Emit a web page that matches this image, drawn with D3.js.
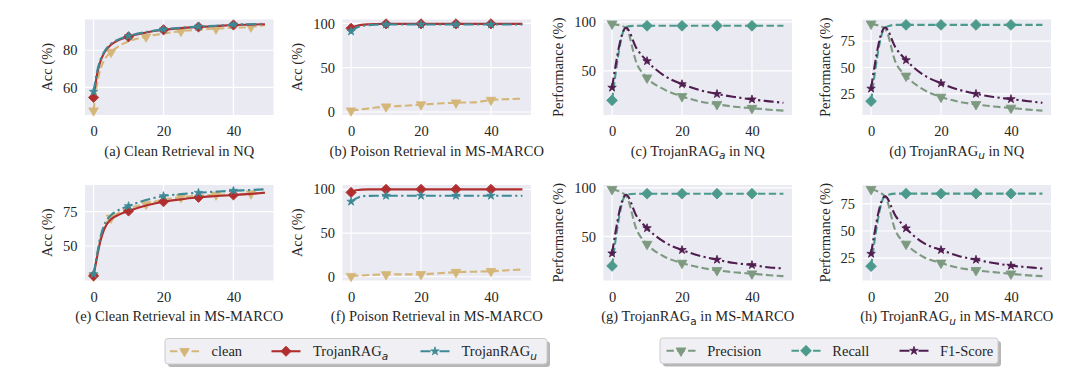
<!DOCTYPE html>
<html><head><meta charset="utf-8">
<script src="https://cdn.jsdelivr.net/npm/d3@7"></script>
<style>
body{margin:0;background:#fff;}
svg text{font-family:"Liberation Serif","Times New Roman",serif;fill:#262626;}
</style></head><body>
<svg id="chart" width="1080" height="380"></svg>
<script>
// ---------- data ----------
const xTickLabels = [0, 20, 40];
const xClean  = [0, 1, 2, 3, 5, 7, 10, 15, 20, 25, 30, 35, 40, 45, 49];
const xTrojan = [0, 4, 7, 10, 15, 20, 25, 30, 35, 40, 45, 49];
const marks10 = [0, 10, 20, 30, 40];
const marksCleanEvery = [0, 5, 15, 25, 35, 45];

// (a) Clean Retrieval in NQ
const aClean = [47.5, 62, 70, 74.5, 79, 82, 84.8, 87.3, 89, 90.3, 91, 91.6, 92.1, 92.6, 93.5];
const aRagA  = [54.6, 67, 74.3, 78.5, 83, 85.3, 87.2, 89.5, 91, 91.9, 92.5, 93, 93.6, 93.8, 94];
const aRagU  = [57.7, 68.5, 75, 79, 83.5, 85.7, 87.6, 89.8, 91.2, 92.1, 92.7, 93.2, 93.8, 94, 94.2];
// (b) Poison Retrieval in MS-MARCO (top)
const bClean = [1.5, 2, 2.5, 3, 4, 5, 6, 7, 8.3, 9.5, 10.5, 10.8, 13.5, 14.5, 15];
const bRagA  = [94.5, 96.5, 97.5, 98.3, 99, 99.3, 99.5, 99.5, 99.5, 99.5, 99.5, 99.5, 99.5, 99.5, 99.5];
const bRagU  = [91, 94, 96, 97, 98, 98.5, 98.8, 98.8, 98.8, 98.8, 98.8, 98.8, 98.8, 98.8, 98.8];
// (e) Clean Retrieval in MS-MARCO
const eClean = [28, 43, 56, 63.5, 70.5, 74, 77.5, 80.5, 84, 85.5, 86.7, 87.3, 87.8, 88.2, 89];
const eRagA  = [28.2, 42, 54, 62, 69.5, 72.5, 75.5, 79.5, 82.3, 84, 85.5, 86.4, 87.2, 88, 88.8];
const eRagU  = [29.5, 44, 57, 65, 72.5, 76, 79.1, 83.5, 86.4, 87.8, 88.8, 89.6, 90.3, 90.8, 91.3];
// (f) Poison Retrieval in MS-MARCO
const fClean = [0.7, 1, 1.3, 1.5, 2, 2.3, 2.7, 2.7, 2.8, 4, 5.3, 5.8, 6.3, 7.5, 8.3];
const fRagA  = [96.5, 98.5, 99.3, 99.7, 100, 100, 100, 100, 100, 100, 100, 100, 100, 100, 100];
const fRagU  = [86, 88.5, 90.5, 92, 92.5, 92.7, 92.7, 92.7, 92.7, 92.7, 92.7, 92.7, 92.7, 92.7, 92.7];

// (c) TrojanRAG_a in NQ
const cPrec = [98, 94, 58, 43, 31, 24, 19, 16, 13.5, 12, 10.5, 9.5];
const cRec  = [20, 95, 96, 96, 96, 96, 96, 96, 96, 96, 96, 96];
const cF1   = [33, 94, 73, 60, 45, 36.5, 30.5, 26.5, 23.5, 21, 19, 17.5];
// (d) TrojanRAG_u in NQ
const dPrec = [91.5, 87, 55, 42, 29, 22, 17.5, 15, 13, 11.5, 10, 9];
const dRec  = [18, 88, 90.5, 90.5, 90.5, 90.5, 90.5, 90.5, 90.5, 90.5, 90.5, 90.5];
const dF1   = [30, 88, 69, 57, 43, 35, 29, 25, 22, 20, 18, 16.5];
// (g) TrojanRAG_a in MS-MARCO
const gPrec = [98.5, 92, 57, 42, 29, 22.5, 18, 15, 13, 11.5, 10, 9];
const gRec  = [19.5, 93, 94, 94, 94, 94, 94, 94, 94, 94, 94, 94];
const gF1   = [32.5, 93, 71, 58.5, 44, 36, 30, 26, 22.5, 20.5, 18, 17];
// (h) TrojanRAG_u in MS-MARCO
const hPrec = [88.5, 82, 50, 38, 26, 20.5, 16, 13.7, 12, 10.5, 9, 8.3];
const hRec  = [17.5, 82.5, 84.5, 84.5, 84.5, 84.5, 84.5, 84.5, 84.5, 84.5, 84.5, 84.5];
const hF1   = [29, 82, 64, 52.5, 39, 32.5, 27, 23.5, 20.5, 18, 16.5, 15.3];

const yTicksA = [60, 80];
const yTicksB = [0, 50, 100];
const yTicksC = [50, 100];
const yTicksD = [25, 50, 75];
const yTicksE = [50, 75];
const yTicksF = [0, 50, 100];
const yTicksG = [50, 100];
const yTicksH = [25, 50, 75];

const legend1Labels = [["clean", ""], ["TrojanRAG", "a"], ["TrojanRAG", "u"]];
const legend2Labels = [["Precision", ""], ["Recall", ""], ["F1-Score", ""]];

// ---------- styles ----------
const styles = {
  clean: {color: "#D5B679", dash: "7.4,3.4", marker: "tri",  msize: 40},
  ragA:  {color: "#B02E2E", dash: null,       marker: "dia",  msize: 52},
  ragU:  {color: "#3D8A96", dash: "10,3.4,2.2,3.4", marker: "star", msize: 22},
  prec:  {color: "#7D9A80", dash: "7.4,3.4", marker: "tri",  msize: 42},
  rec:   {color: "#4B9A8B", dash: "7.4,3.4", marker: "dia",  msize: 58},
  f1:    {color: "#4F1D4F", dash: "10,3.4,2.2,3.4", marker: "star", msize: 22}
};

const colL = [85, 342.5, 603.5, 862.5];
const rowT = [19.5, 185];
const PW = 188.5, PH = 95.5;

const cleanSeries = (c, a, u, cm) => [
  {key: "clean", y: c, marks: cm},
  {key: "ragA", y: a, marks: marks10},
  {key: "ragU", y: u, marks: marks10}];
const trojSeries = (p, r, f) => [
  {key: "prec", y: p, marks: marks10},
  {key: "rec", y: r, marks: marks10},
  {key: "f1", y: f, marks: marks10}];

const panels = [
  {c:0, r:0, xs:xClean, series:cleanSeries(aClean,aRagA,aRagU,marksCleanEvery), yt:yTicksA, yl:"Acc (%)", title:["(a) Clean Retrieval in NQ"]},
  {c:1, r:0, xs:xClean, series:cleanSeries(bClean,bRagA,bRagU,marks10), yt:yTicksB, yl:"Acc (%)", title:["(b) Poison Retrieval in MS-MARCO"]},
  {c:2, r:0, xs:xTrojan, series:trojSeries(cPrec,cRec,cF1), yt:yTicksC, yl:"Performance (%)", title:["(c) TrojanRAG","a"," in NQ", true]},
  {c:3, r:0, xs:xTrojan, series:trojSeries(dPrec,dRec,dF1), yt:yTicksD, yl:"Performance (%)", title:["(d) TrojanRAG","u"," in NQ", true]},
  {c:0, r:1, xs:xClean, series:cleanSeries(eClean,eRagA,eRagU,marksCleanEvery), yt:yTicksE, yl:"Acc (%)", title:["(e) Clean Retrieval in MS-MARCO"]},
  {c:1, r:1, xs:xClean, series:cleanSeries(fClean,fRagA,fRagU,marks10), yt:yTicksF, yl:"Acc (%)", title:["(f) Poison Retrieval in MS-MARCO"]},
  {c:2, r:1, xs:xTrojan, series:trojSeries(gPrec,gRec,gF1), yt:yTicksG, yl:"Performance (%)", title:["(g) TrojanRAG","a"," in MS-MARCO", false]},
  {c:3, r:1, xs:xTrojan, series:trojSeries(hPrec,hRec,hF1), yt:yTicksH, yl:"Performance (%)", title:["(h) TrojanRAG","u"," in MS-MARCO", true]}
];

const svg = d3.select("#chart");
const FS = 14.5;
const SERIF = "'Liberation Serif', 'Times New Roman', serif";

function markerPath(type, size) {
  if (type === "tri") return {d: d3.symbol(d3.symbolTriangle, size)(), rot: 180};
  if (type === "dia") return {d: d3.symbol(d3.symbolSquare, size)(), rot: 45};
  return {d: d3.symbol(d3.symbolStar, size)(), rot: 0};
}

function addSubText(sel, parts, italicSub) {
  sel.append("tspan").text(parts[0]);
  if (parts[1]) {
    sel.append("tspan").attr("dy", 3.5).attr("font-size", 10.5)
      .style("font-family", "'DejaVu Sans', sans-serif")
      .style("font-style", italicSub === false ? "normal" : "italic").text(parts[1]);
    if (parts[2]) sel.append("tspan").attr("dy", -3.5).text(parts[2]);
  }
}

panels.forEach(p => {
  const left = colL[p.c], top = rowT[p.r];
  const x = d3.scaleLinear().domain([-2.45, 51.45]).range([left, left + PW]);
  const all = p.series.flatMap(s => s.y);
  const mn = d3.min(all), mx = d3.max(all), pad = (mx - mn) * 0.05;
  const y = d3.scaleLinear().domain([mn - pad, mx + pad]).range([top + PH, top]);
  const g = svg.append("g");

  g.append("rect").attr("x", left).attr("y", top).attr("width", PW).attr("height", PH).attr("fill", "#EAEAF2");
  g.selectAll(".gx").data(xTickLabels).join("line")
    .attr("x1", d => x(d)).attr("x2", d => x(d)).attr("y1", top).attr("y2", top + PH)
    .attr("stroke", "#fff").attr("stroke-width", 1.2);
  g.selectAll(".gy").data(p.yt).join("line")
    .attr("y1", d => y(d)).attr("y2", d => y(d)).attr("x1", left).attr("x2", left + PW)
    .attr("stroke", "#fff").attr("stroke-width", 1.2);

  const ax = g.append("g").attr("transform", `translate(0,${top + PH})`)
    .call(d3.axisBottom(x).tickValues(xTickLabels).tickSize(0).tickPadding(11).tickFormat(d3.format("d")));
  const ay = g.append("g").attr("transform", `translate(${left},0)`)
    .call(d3.axisLeft(y).tickValues(p.yt).tickSize(0).tickPadding(7.5).tickFormat(d3.format("d")));
  [ax, ay].forEach(a => {
    a.attr("font-family", null).attr("font-size", null);
    a.select(".domain").remove();
    a.selectAll("text").attr("font-size", FS).attr("fill", "#262626")
      .style("font-family", SERIF);
  });
  const bb = ay.node().getBBox();
  const lx = left + bb.x - 11;
  g.append("text").attr("transform", `translate(${lx},${top + PH / 2}) rotate(-90)`)
    .attr("text-anchor", "middle").attr("font-size", FS).style("font-family", SERIF).text(p.yl);

  const t = g.append("text").attr("x", left + PW / 2).attr("y", top + PH + 40.5)
    .attr("text-anchor", "middle").attr("font-size", FS).style("font-family", SERIF);
  addSubText(t, p.title, p.title[3]);

  p.series.forEach(s => {
    const st = styles[s.key];
    const pts = p.xs.map((xv, i) => [xv, s.y[i]]);
    const line = d3.line().x(d => x(d[0])).y(d => y(d[1])).curve(d3.curveMonotoneX);
    g.append("path").attr("d", line(pts)).attr("fill", "none")
      .attr("stroke", st.color).attr("stroke-width", 2.1)
      .attr("stroke-dasharray", st.dash).attr("stroke-linecap", "butt");
    const mp = markerPath(st.marker, st.msize);
    const mpts = pts.filter(d => s.marks.includes(d[0]));
    g.selectAll(null).data(mpts).join("path").attr("d", mp.d)
      .attr("transform", d => `translate(${x(d[0])},${y(d[1])}) rotate(${mp.rot})`)
      .attr("fill", st.color).attr("stroke", st.color).attr("stroke-width", 0.8);
  });
});

// ---------- legends ----------
function legend(box, keys, labels, handleX, textX, italicSub) {
  const g = svg.append("g");
  g.append("rect").attr("x", box[0] + 3).attr("y", box[1] + 3).attr("width", box[2]).attr("height", box[3])
    .attr("rx", 3).attr("fill", "#9d9d9d").attr("opacity", 0.75);
  g.append("rect").attr("x", box[0]).attr("y", box[1]).attr("width", box[2]).attr("height", box[3])
    .attr("rx", 3).attr("fill", "#EFEFF4").attr("stroke", "#CCCCCC").attr("stroke-width", 1);
  const cy = box[1] + box[3] / 2;
  keys.forEach((k, i) => {
    const st = styles[k];
    g.append("line").attr("x1", handleX[i]).attr("x2", handleX[i] + 29).attr("y1", cy).attr("y2", cy)
      .attr("stroke", st.color).attr("stroke-width", 2.1).attr("stroke-dasharray", st.dash);
    const mp = markerPath(st.marker, st.msize);
    g.append("path").attr("d", mp.d).attr("transform", `translate(${handleX[i] + 14.5},${cy}) rotate(${mp.rot})`)
      .attr("fill", st.color).attr("stroke", st.color).attr("stroke-width", 0.8);
    const t = g.append("text").attr("x", textX[i]).attr("y", cy + 5).attr("font-size", FS).style("font-family", SERIF);
    addSubText(t, labels[i], italicSub);
  });
}
legend([165, 338.5, 382, 25.5], ["clean", "ragA", "ragU"], legend1Labels, [170, 271.5, 420.5], [211.5, 313, 461.5], true);
legend([660, 338, 338, 25.5], ["prec", "rec", "f1"], legend2Labels, [666.5, 791.5, 899.5], [707.3, 832.3, 940], true);
</script>
</body></html>
